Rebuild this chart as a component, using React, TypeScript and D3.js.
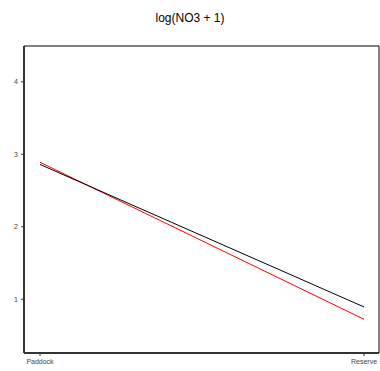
import React from "react";
import * as d3 from "d3";

const categories = ["Paddock", "Reserve"];
const blackSeries = [2.86, 0.894];
const redSeries = [2.89, 0.724];
const yTicks = [1, 2, 3, 4];
const title = "log(NO3 + 1)";

const W = 380;
const H = 371;
const plot = { left: 24, right: 379, top: 46, bottom: 353 };

export default function App() {
  const x = d3.scalePoint<string>().domain(categories).range([40, 364]);
  const y = d3.scaleLinear().domain([0.259, 4.494]).range([plot.bottom, plot.top]);
  const line = d3
    .line<number>()
    .x((_, i) => x(categories[i]) as number)
    .y((d) => y(d));

  return (
    <svg
      width={W}
      height={H}
      style={{ position: "absolute", left: 0, top: 0 }}
      fontFamily="Liberation Sans, Arial, sans-serif"
    >
      <rect width={W} height={H} fill="#fff" />
      <text x={190} y={22} textAnchor="middle" fontSize={12} fill="#000">
        {title}
      </text>
      {/* top and right frame */}
      <path
        d={`M${plot.left},${plot.top}H${plot.right}V${plot.bottom}`}
        fill="none"
        stroke="#000"
        strokeWidth={1}
      />
      {/* axes */}
      <line x1={plot.left} x2={plot.left} y1={plot.top} y2={plot.bottom} stroke="#333" strokeWidth={2} />
      <line x1={plot.left} x2={plot.right} y1={plot.bottom} y2={plot.bottom} stroke="#333" strokeWidth={2} />
      {yTicks.map((t) => (
        <g key={t}>
          <line x1={plot.left - 3} x2={plot.left} y1={y(t)} y2={y(t)} stroke="#333" strokeWidth={1} />
          <text x={plot.left - 6} y={y(t) + 2.5} textAnchor="end" fontSize={7} fill="#444">
            {t}
          </text>
        </g>
      ))}
      {categories.map((c) => (
        <g key={c}>
          <line x1={x(c)} x2={x(c)} y1={plot.bottom} y2={plot.bottom + 3} stroke="#333" strokeWidth={1} />
          <text x={x(c)} y={plot.bottom + 11} textAnchor="middle" fontSize={7} fill="#444">
            {c}
          </text>
        </g>
      ))}
      <path d={line(redSeries) || ""} fill="none" stroke="#ff0000" strokeWidth={1} />
      <path d={line(blackSeries) || ""} fill="none" stroke="#000" strokeWidth={1} />
    </svg>
  );
}
